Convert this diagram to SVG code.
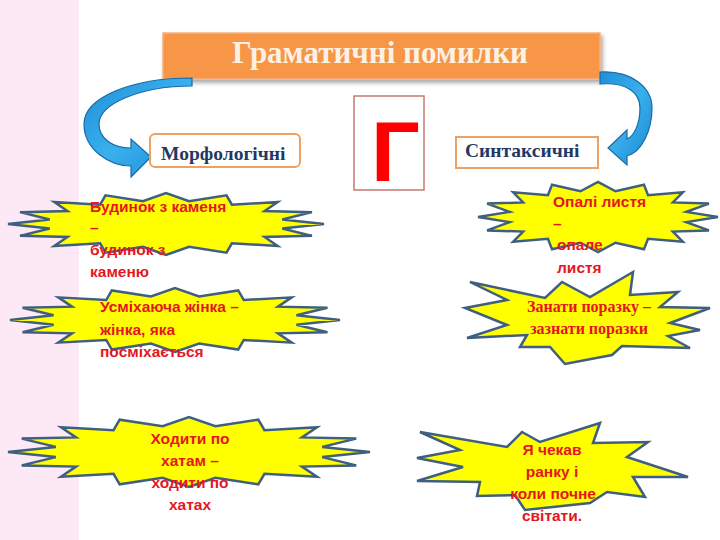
<svg xmlns="http://www.w3.org/2000/svg" width="720" height="540" viewBox="0 0 720 540">
<defs>
<style>
.star{fill:#ffff00;stroke:#3f5f80;stroke-width:2.5;stroke-linejoin:miter;vector-effect:non-scaling-stroke}
.rt{font-family:"Liberation Sans",Arial,sans-serif;font-weight:bold;font-size:15.5px;fill:#e5161e}
.rs{font-family:"Liberation Serif","Times New Roman",serif;font-weight:bold;font-size:16px;fill:#e5161e}
.lbl{font-family:"Liberation Serif","Times New Roman",serif;font-weight:bold;font-size:19.5px;fill:#1f3864}
.box{fill:#ffffff;stroke:#f0a060;stroke-width:2}
.arrow{fill:url(#blue);stroke:#1a6aa6;stroke-width:1.2}
</style>
<linearGradient id="blue" x1="0" y1="0" x2="1" y2="1">
<stop offset="0" stop-color="#1f8fd8"/>
<stop offset="0.5" stop-color="#39b0ee"/>
<stop offset="1" stop-color="#1a86d0"/>
</linearGradient>
<filter id="sh" x="-10%" y="-30%" width="120%" height="170%">
<feDropShadow dx="2" dy="3" stdDeviation="2" flood-color="#000" flood-opacity="0.35"/>
</filter>
</defs>
<rect x="0" y="0" width="720" height="540" fill="#ffffff"/>
<rect x="0" y="0" width="79" height="540" fill="#fde8f6"/>

<g id="title">
<rect x="163" y="33" width="437" height="46" fill="#f79646" stroke="#f4b183" stroke-width="1.5" filter="url(#sh)"/>
<text x="380" y="63" text-anchor="middle" font-family="'Liberation Serif','Times New Roman',serif" font-weight="bold" font-size="31" fill="#fdf1e3">Граматичні помилки</text>
</g>

<g id="connectors">
<path class="arrow" d="M192,78 C130,78 84,98 84,124 C84,150 110,166 131,166 L131,177 L151,157 L131,139 L131,148 C112,148 99,138 99,124 C99,104 140,86 192,86 Z"/>
<path class="arrow" d="M600,72 C632,70 652,88 652,108 C652,130 642,152 627,156 L627,165 L608,148 L627,130 L627,139 C634,136 640,124 640,108 C640,92 626,82 600,84 Z"/>
</g>

<g id="morph">
<rect class="box" x="150" y="134" width="150" height="33" rx="5"/>
<text class="lbl" x="161" y="160">Морфологічні</text>
</g>

<g id="synt">
<rect class="box" x="456" y="137" width="142" height="31"/>
<text class="lbl" x="465" y="157">Синтаксичні</text>
</g>

<g id="letter">
<rect x="354" y="96" width="70" height="94" fill="#ffffff" stroke="#c57a72" stroke-width="1.5"/>
<text x="371" y="181" font-family="'Liberation Sans',Arial,sans-serif" font-weight="bold" font-size="86" fill="#ff0000">Г</text>
</g>

<g id="n1">
<polygon class="star" transform="translate(166,224) scale(1.58,0.31)" points="100,0 73.6,14.6 92.4,38.3 62.4,41.7 70.7,70.7 41.7,62.4 38.3,92.4 14.6,73.6 0,100 -14.6,73.6 -38.3,92.4 -41.7,62.4 -70.7,70.7 -62.4,41.7 -92.4,38.3 -73.6,14.6 -100,0 -73.6,-14.6 -92.4,-38.3 -62.4,-41.7 -70.7,-70.7 -41.7,-62.4 -38.3,-92.4 -14.6,-73.6 0,-100 14.6,-73.6 38.3,-92.4 41.7,-62.4 70.7,-70.7 62.4,-41.7 92.4,-38.3 73.6,-14.6"/>
<text class="rt" x="90" y="212">Будинок з каменя</text>
<text class="rt" x="90" y="233">–</text>
<text class="rt" x="90" y="255">будинок з</text>
<text class="rt" x="90" y="277">каменю</text>
</g>

<g id="n2">
<polygon class="star" transform="translate(175,320) scale(1.65,0.32)" points="100,0 73.6,14.6 92.4,38.3 62.4,41.7 70.7,70.7 41.7,62.4 38.3,92.4 14.6,73.6 0,100 -14.6,73.6 -38.3,92.4 -41.7,62.4 -70.7,70.7 -62.4,41.7 -92.4,38.3 -73.6,14.6 -100,0 -73.6,-14.6 -92.4,-38.3 -62.4,-41.7 -70.7,-70.7 -41.7,-62.4 -38.3,-92.4 -14.6,-73.6 0,-100 14.6,-73.6 38.3,-92.4 41.7,-62.4 70.7,-70.7 62.4,-41.7 92.4,-38.3 73.6,-14.6"/>
<text class="rt" x="100" y="312">Усміхаюча жінка –</text>
<text class="rt" x="100" y="335">жінка, яка</text>
<text class="rt" x="100" y="357">посміхається</text>
</g>

<g id="n3">
<polygon class="star" transform="translate(189,452) scale(1.81,0.35)" points="100,0 73.6,14.6 92.4,38.3 62.4,41.7 70.7,70.7 41.7,62.4 38.3,92.4 14.6,73.6 0,100 -14.6,73.6 -38.3,92.4 -41.7,62.4 -70.7,70.7 -62.4,41.7 -92.4,38.3 -73.6,14.6 -100,0 -73.6,-14.6 -92.4,-38.3 -62.4,-41.7 -70.7,-70.7 -41.7,-62.4 -38.3,-92.4 -14.6,-73.6 0,-100 14.6,-73.6 38.3,-92.4 41.7,-62.4 70.7,-70.7 62.4,-41.7 92.4,-38.3 73.6,-14.6"/>
<text class="rt" x="190" y="444" text-anchor="middle">Ходити по</text>
<text class="rt" x="190" y="466" text-anchor="middle">хатам –</text>
<text class="rt" x="190" y="488" text-anchor="middle">ходити по</text>
<text class="rt" x="190" y="510" text-anchor="middle">хатах</text>
</g>

<g id="n4">
<polygon class="star" transform="translate(598,217) scale(1.2,0.35)" points="100,0 73.6,14.6 92.4,38.3 62.4,41.7 70.7,70.7 41.7,62.4 38.3,92.4 14.6,73.6 0,100 -14.6,73.6 -38.3,92.4 -41.7,62.4 -70.7,70.7 -62.4,41.7 -92.4,38.3 -73.6,14.6 -100,0 -73.6,-14.6 -92.4,-38.3 -62.4,-41.7 -70.7,-70.7 -41.7,-62.4 -38.3,-92.4 -14.6,-73.6 0,-100 14.6,-73.6 38.3,-92.4 41.7,-62.4 70.7,-70.7 62.4,-41.7 92.4,-38.3 73.6,-14.6"/>
<text class="rt" x="553" y="207">Опалі листя</text>
<text class="rt" x="553" y="229">–</text>
<text class="rt" x="557" y="250">опале</text>
<text class="rt" x="557" y="273">листя</text>
</g>

<g id="n5">
<polygon class="star" points="470,282 545,298 562,282 590,297 633,272 630,295 678,292 660,307 710,308 670,323 700,330 668,336 690,348 622,346 612,355 565,364 550,347 520,347 527,335 467,338 507,325 465,308 507,300"/>
<text class="rs" x="589" y="312" text-anchor="middle">Занати поразку –</text>
<text class="rs" x="589" y="334" text-anchor="middle">зазнати поразки</text>
</g>

<g id="n6">
<polygon class="star" points="420,432 507,447 522,432 540,442 600,423 593,443 648,442 627,457 688,477 633,477 645,497 607,492 590,503 525,510 515,495 477,496 480,482 417,481 463,467 417,458 460,450"/>
<text class="rt" x="552" y="455" text-anchor="middle">Я чекав</text>
<text class="rt" x="552" y="477" text-anchor="middle">ранку і</text>
<text class="rt" x="553" y="499" text-anchor="middle">коли почне</text>
<text class="rt" x="552" y="521" text-anchor="middle">світати.</text>
</g>
</svg>
